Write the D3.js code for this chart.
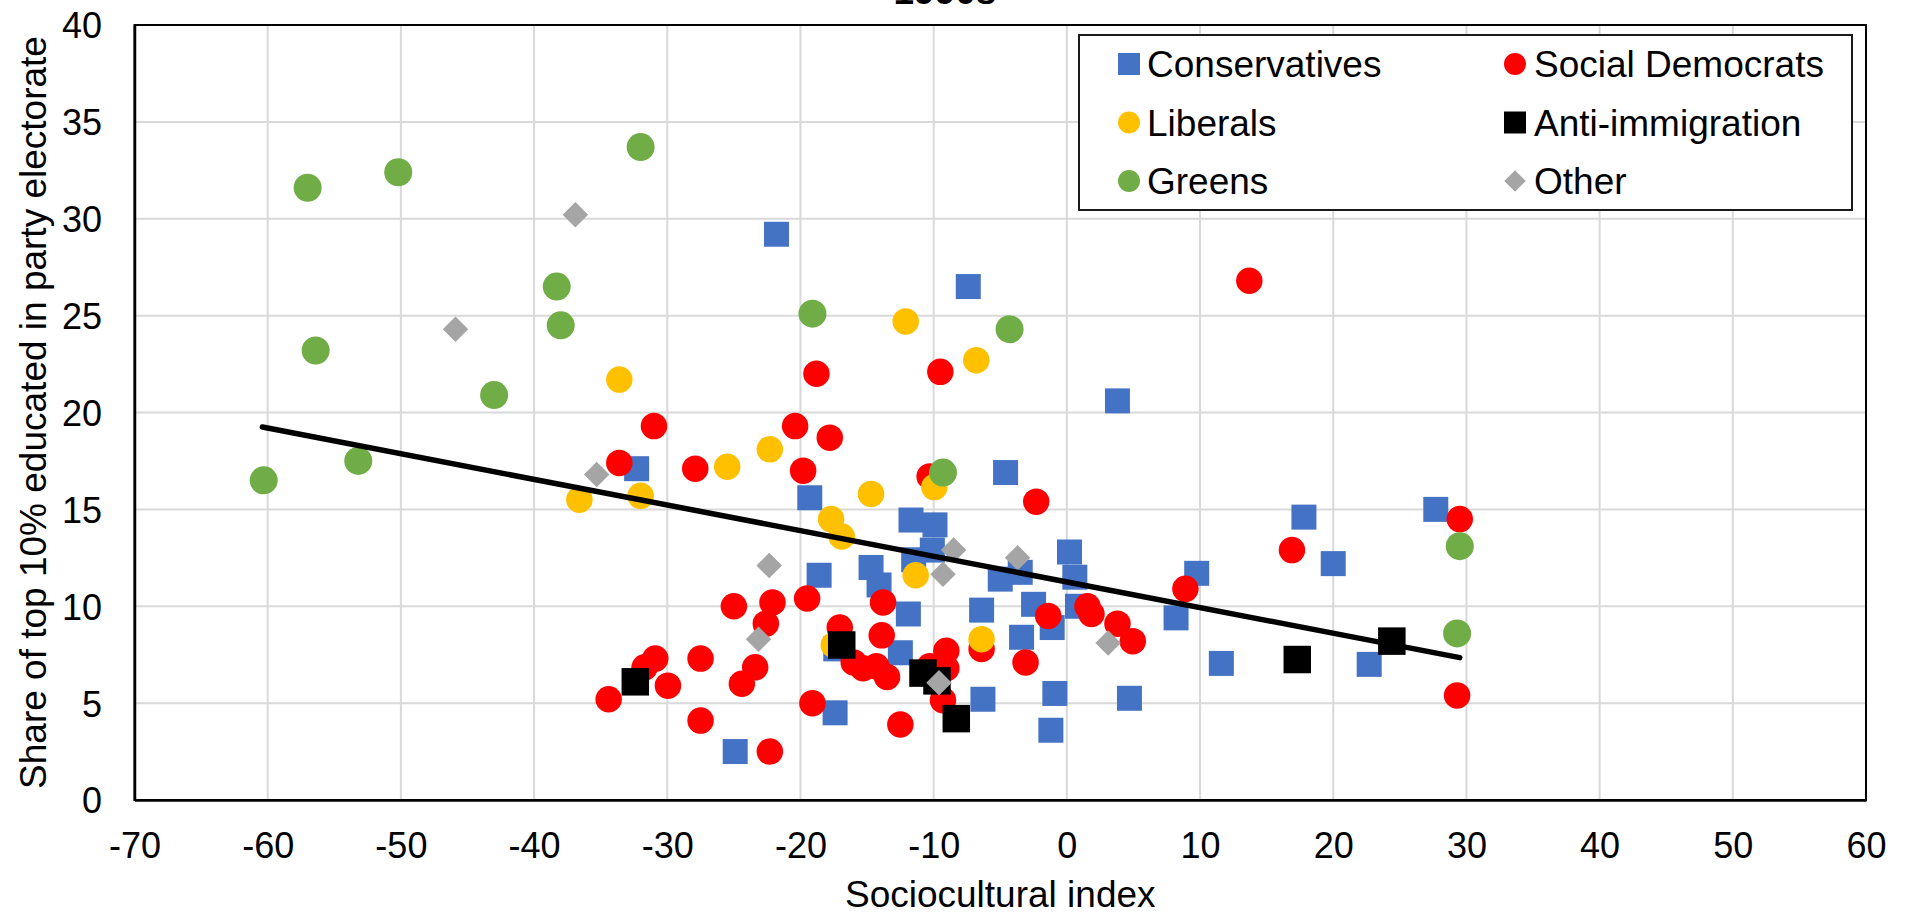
<!DOCTYPE html>
<html>
<head>
<meta charset="utf-8" />
<title>1990s</title>
<style>
  body { margin: 0; background: #fff; }
  text { font-family: "Liberation Sans", Arial, sans-serif; fill: #000; }
</style>
</head>
<body>
<script src="https://cdnjs.cloudflare.com/ajax/libs/d3/7.8.5/d3.min.js"></script>
<script>
// values: [sociocultural index, share of top 10% educated]
var conservatives = [
    [-32.3, 17.1], [-21.8, 29.2], [-7.4, 26.5], [3.8, 20.6], [-19.3, 15.6], [-4.6, 16.9],
    [-11.7, 14.45], [-9.9, 14.2], [-10.1, 12.9], [-11.5, 12.4], [-18.6, 11.6], [-14.7, 12.0],
    [-14.1, 11.1], [-3.5, 11.75], [-5.0, 11.4], [0.2, 12.8], [0.6, 11.5], [0.8, 10.0],
    [-2.5, 10.1], [-1.1, 8.9], [-3.4, 8.4], [-6.4, 9.8], [-11.9, 9.6], [-12.5, 7.6],
    [-17.35, 7.8], [-17.4, 4.5], [-24.9, 2.5], [-6.3, 5.2], [-0.9, 5.5], [-1.2, 3.6],
    [4.7, 5.25], [9.75, 11.7], [8.2, 9.4], [11.6, 7.05], [17.8, 14.6], [20.0, 12.2],
    [27.7, 15.0], [22.7, 7.0]
];
var socialDemocrats = [
    [-31.0, 19.3], [-33.6, 17.4], [-27.9, 17.1], [-20.4, 19.3], [-17.8, 18.7], [-19.8, 17.0],
    [-18.8, 22.0], [-9.5, 22.1], [13.7, 26.8], [-10.3, 16.7], [-2.3, 15.4], [-25.0, 10.0],
    [-22.1, 10.2], [-22.6, 9.1], [-19.5, 10.4], [-13.8, 10.2], [-13.9, 8.5], [-17.05, 8.9],
    [-16.0, 7.1], [-15.3, 6.8], [-14.3, 6.9], [-13.5, 6.35], [-9.05, 7.7], [-9.05, 6.8],
    [-10.3, 6.9], [-9.3, 5.15], [-12.5, 3.9], [-19.1, 5.0], [-22.3, 2.5], [-27.5, 4.1],
    [-27.5, 7.3], [-23.4, 6.85], [-24.4, 6.0], [-30.9, 7.3], [-31.7, 6.85], [-29.95, 5.9],
    [-34.4, 5.2], [-6.4, 7.8], [-3.1, 7.1], [-1.4, 9.5], [1.55, 10.0], [1.85, 9.6],
    [3.8, 9.1], [4.95, 8.2], [8.9, 10.9], [16.9, 12.9], [29.5, 14.5], [29.3, 5.4]
];
var liberals = [
    [-33.6, 21.7], [-36.6, 15.5], [-32.0, 15.7], [-25.5, 17.2], [-22.3, 18.1], [-14.7, 15.8],
    [-17.7, 14.5], [-16.9, 13.6], [-12.1, 24.7], [-6.8, 22.7], [-9.95, 16.15], [-11.35, 11.6],
    [-6.4, 8.3], [-17.5, 8.0]
];
var antiImmigration = [
    [-32.4, 6.1], [-16.9, 8.0], [-10.8, 6.55], [-9.75, 6.15], [-8.3, 4.2], [17.3, 7.25], [24.4, 8.2]
];
var greens = [
    [-57.0, 31.6], [-50.2, 32.4], [-32.0, 33.7], [-38.3, 26.5], [-38.0, 24.5], [-56.4, 23.2],
    [-43.0, 20.9], [-60.3, 16.5], [-53.2, 17.5], [-19.1, 25.1], [-4.3, 24.3], [-9.3, 16.9],
    [29.5, 13.1], [29.3, 8.6]
];
var other = [
    [-36.9, 30.2], [-45.9, 24.3], [-35.3, 16.8], [-22.35, 12.1], [-23.15, 8.3], [-8.5, 12.9],
    [-9.3, 11.65], [-3.7, 12.5], [3.1, 8.1], [-9.6, 6.05]
];
// linear trendline end points
var trend = [[-60.4, 19.25], [29.5, 7.35]];

var xTicks = [-70, -60, -50, -40, -30, -20, -10, 0, 10, 20, 30, 40, 50, 60];
var yTicks = [0, 5, 10, 15, 20, 25, 30, 35, 40];

var width = 1908,
    height = 914;
var plotLeft = 134.5, plotRight = 1866, plotTop = 25, plotBottom = 800;

var svg = d3.select('body').append('svg')
    .attr('width', width)
    .attr('height', height);

svg.append('rect').attr('width', width).attr('height', height).attr('fill', '#fff');

var x = d3.scaleLinear().domain([-70, 60]).range([plotLeft, plotRight]);
var y = d3.scaleLinear().domain([0, 40]).range([plotBottom, plotTop]);

// gridlines
svg.append('g').selectAll('line')
    .data(xTicks)
  .enter().append('line')
    .attr('x1', function(d) { return x(d); })
    .attr('x2', function(d) { return x(d); })
    .attr('y1', plotTop).attr('y2', plotBottom)
    .attr('stroke', '#d9d9d9').attr('stroke-width', 2);
svg.append('g').selectAll('line')
    .data(yTicks)
  .enter().append('line')
    .attr('y1', function(d) { return y(d); })
    .attr('y2', function(d) { return y(d); })
    .attr('x1', plotLeft).attr('x2', plotRight)
    .attr('stroke', '#d9d9d9').attr('stroke-width', 2);

// plot border
svg.append('rect')
    .attr('x', plotLeft).attr('y', plotTop)
    .attr('width', plotRight - plotLeft).attr('height', plotBottom - plotTop)
    .attr('fill', 'none').attr('stroke', '#000').attr('stroke-width', 2);

// axes (plain hyphen for negatives, like the original)
var fmt = function(d) { return String(d); };
var xAxis = svg.append('g')
    .attr('transform', 'translate(0,' + plotBottom + ')')
    .call(d3.axisBottom(x).tickValues(xTicks).tickFormat(fmt).tickSize(0).tickPadding(32));
var yAxis = svg.append('g')
    .attr('transform', 'translate(' + plotLeft + ',0)')
    .call(d3.axisLeft(y).tickValues(yTicks).tickFormat(fmt).tickSize(0).tickPadding(32.5));
[xAxis, yAxis].forEach(function(a) {
    a.select('.domain').attr('stroke', '#000').attr('stroke-width', 2.5);
    a.selectAll('text')
        .style('font-family', '"Liberation Sans", Arial, sans-serif')
        .style('font-size', '36px')
        .attr('fill', '#000');
});
yAxis.selectAll('text').attr('dy', '0.36em');

// series
var series = [
    {name: 'Conservatives', data: conservatives, color: '#4472C4', shape: 'square', size: 25},
    {name: 'Social Democrats', data: socialDemocrats, color: '#FF0000', shape: 'circle', size: 26.5},
    {name: 'Liberals', data: liberals, color: '#FFC000', shape: 'circle', size: 26.5},
    {name: 'Anti-immigration', data: antiImmigration, color: '#000000', shape: 'square', size: 27.5},
    {name: 'Greens', data: greens, color: '#70AD47', shape: 'circle', size: 28},
    {name: 'Other', data: other, color: '#A5A5A5', shape: 'diamond', size: 25.5}
];

function symbolPath(shape, size) {
    if (shape === 'circle') return d3.symbol().type(d3.symbolCircle).size(Math.PI * size * size / 4)();
    if (shape === 'square') return d3.symbol().type(d3.symbolSquare).size(size * size)();
    return d3.symbol().type(d3.symbolSquare).size(size * size / 2)();
}

series.forEach(function(s) {
    svg.append('g').selectAll('path')
        .data(s.data)
      .enter().append('path')
        .attr('d', symbolPath(s.shape, s.size))
        .attr('transform', function(d) {
            return 'translate(' + x(d[0]) + ',' + y(d[1]) + ')' + (s.shape === 'diamond' ? ' rotate(45)' : '');
        })
        .attr('fill', s.color);
});

// trendline
svg.append('path')
    .datum(trend)
    .attr('d', d3.line().x(function(d) { return x(d[0]); }).y(function(d) { return y(d[1]); }))
    .attr('fill', 'none')
    .attr('stroke', '#000')
    .attr('stroke-width', 5.5)
    .attr('stroke-linecap', 'round');

// legend
var legend = svg.append('g');
legend.append('rect')
    .attr('x', 1079).attr('y', 35)
    .attr('width', 773).attr('height', 175)
    .attr('fill', '#fff').attr('stroke', '#1a1a1a').attr('stroke-width', 2);
var legendSize = {circle: 22, square: 22, diamond: 21.5};
series.forEach(function(s, i) {
    var col = i % 2, row = Math.floor(i / 2);
    var mx = col === 0 ? 1129 : 1515;
    var tx = col === 0 ? 1147 : 1534;
    var cy = 64 + row * 58.5;
    legend.append('path')
        .attr('d', symbolPath(s.shape, legendSize[s.shape]))
        .attr('transform', 'translate(' + mx + ',' + cy + ')' + (s.shape === 'diamond' ? ' rotate(45)' : ''))
        .attr('fill', s.color);
    legend.append('text')
        .attr('x', tx).attr('y', cy)
        .attr('dy', '0.36em')
        .style('font-size', '37px')
        .text(s.name);
});

// titles (the chart title sits mostly above the top edge, as in the original)
svg.append('text')
    .attr('x', 945).attr('y', 4)
    .attr('text-anchor', 'middle')
    .style('font-size', '37px')
    .style('font-weight', 'bold')
    .text('1990s');

svg.append('text')
    .attr('x', (plotLeft + plotRight) / 2).attr('y', 907)
    .attr('text-anchor', 'middle')
    .style('font-size', '37px')
    .text('Sociocultural index');

svg.append('text')
    .attr('transform', 'translate(46,' + ((plotTop + plotBottom) / 2) + ') rotate(-90)')
    .attr('text-anchor', 'middle')
    .style('font-size', '37px')
    .text('Share of top 10% educated in party electorate');
</script>
</body>
</html>
